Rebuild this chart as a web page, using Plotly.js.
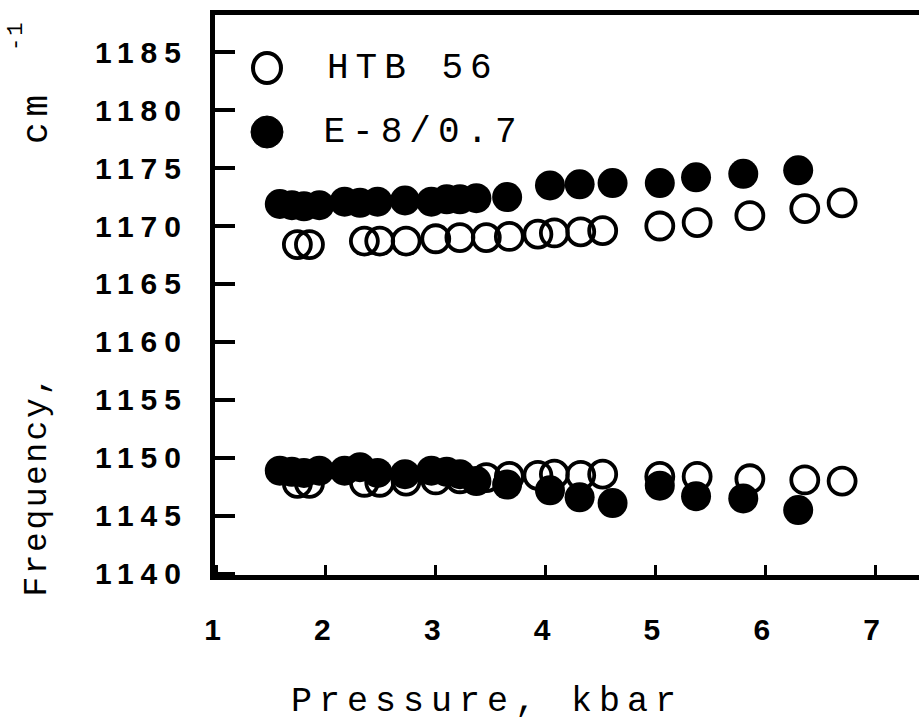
<!DOCTYPE html>
<html>
<head>
<meta charset="utf-8">
<script src="https://cdn.plot.ly/plotly-3.0.1.min.js"></script>
<style>
  html, body { margin: 0; padding: 0; background: #fff; }
  #chart { width: 919px; height: 726px; }
  .xtick text, .ytick text { letter-spacing: 7px; }
  .annotation[data-index="0"] text { letter-spacing: 7px; }
  .annotation[data-index="1"] text { letter-spacing: 2.5px; }
  .annotation[data-index="2"] text { letter-spacing: 6px; }
  .annotation[data-index="3"] text { letter-spacing: 2px; }
  .annotation[data-index="4"] text { letter-spacing: 7px; }
  .annotation[data-index="5"] text { letter-spacing: 7px; }
</style>
</head>
<body>
<div id="chart"></div>
<script>
// Pressure (kbar) and frequencies (cm^-1)
const htbPressure = [1.74, 1.85, 2.35, 2.49, 2.73, 3.0, 3.22, 3.46, 3.67, 3.93, 4.08, 4.32, 4.52, 5.04, 5.38, 5.86, 6.36, 6.70];
const htbUpper = [1168.4, 1168.4, 1168.7, 1168.7, 1168.7, 1168.9, 1169.0, 1169.0, 1169.1, 1169.3, 1169.4, 1169.5, 1169.6, 1170.0, 1170.3, 1170.9, 1171.5, 1172.0];
const htbLower = [1147.8, 1147.8, 1147.9, 1147.9, 1148.0, 1148.1, 1148.2, 1148.3, 1148.4, 1148.5, 1148.6, 1148.5, 1148.6, 1148.4, 1148.4, 1148.2, 1148.1, 1148.0];

const e8Pressure = [1.58, 1.69, 1.80, 1.94, 2.17, 2.31, 2.47, 2.72, 2.96, 3.10, 3.22, 3.37, 3.65, 4.04, 4.31, 4.61, 5.04, 5.37, 5.80, 6.30];
const e8Upper = [1171.9, 1171.8, 1171.7, 1171.8, 1172.1, 1172.0, 1172.1, 1172.2, 1172.1, 1172.3, 1172.3, 1172.4, 1172.5, 1173.5, 1173.6, 1173.7, 1173.7, 1174.2, 1174.5, 1174.8];
const e8Lower = [1148.9, 1148.8, 1148.7, 1148.9, 1148.9, 1149.2, 1148.7, 1148.6, 1148.9, 1148.8, 1148.6, 1148.0, 1147.7, 1147.2, 1146.6, 1146.1, 1147.6, 1146.7, 1146.5, 1145.5];

const xTicks = [1, 2, 3, 4, 5, 6, 7];
const yTicks = [1140, 1145, 1150, 1155, 1160, 1165, 1170, 1175, 1180, 1185];

const seriesNames = ['HTB 56', 'E-8/0.7'];

const traces = [
  {
    type: 'scatter', mode: 'markers', name: seriesNames[0], showlegend: false,
    x: htbPressure.concat([null], htbPressure),
    y: htbUpper.concat([null], htbLower),
    marker: { symbol: 'circle-open', size: 27, color: '#000', line: { width: 3.8, color: '#000' } }
  },
  {
    type: 'scatter', mode: 'markers', name: seriesNames[1], showlegend: false,
    x: e8Pressure.concat([null], e8Pressure),
    y: e8Upper.concat([null], e8Lower),
    marker: { symbol: 'circle', size: 30, color: '#000' }
  }
];

const W = 704, L = 215, T = 15, H = 560;
const px2x = p => (p - L) / W;
const py2y = p => 1 - (p - T) / H;
const monoFont = 'Liberation Mono, monospace';

const legendY = [68, 132];

const layout = {
  width: 919, height: 726,
  margin: { l: L, r: 0, t: T, b: 726 - T - H },
  paper_bgcolor: '#fff', plot_bgcolor: '#fff',
  showlegend: false,
  font: { family: 'Liberation Sans, Arial, sans-serif', color: '#000' },
  xaxis: {
    range: [0.99, 7.4],
    tickvals: xTicks, ticktext: xTicks.map(String),
    ticks: 'inside', ticklen: 10, tickwidth: 3, tickcolor: '#000',
    showline: true, linewidth: 5, linecolor: '#000', mirror: true,
    showgrid: false, zeroline: false,
    tickfont: { size: 30, family: 'Liberation Sans, Arial, sans-serif', color: '#000', weight: 'bold' },
    ticklabelstandoff: 24
  },
  yaxis: {
    range: [1139.9, 1188.2],
    tickvals: yTicks, ticktext: yTicks.map(String),
    ticks: 'inside', ticklen: 20, tickwidth: 3.5, tickcolor: '#000',
    showline: true, linewidth: 5, linecolor: '#000', mirror: false,
    showgrid: false, zeroline: false,
    tickfont: { size: 30, family: 'Liberation Sans, Arial, sans-serif', color: '#000', weight: 'bold' },
    ticklabelstandoff: 16
  },
  shapes: [
    {
      type: 'circle', xref: 'paper', yref: 'paper', xsizemode: 'pixel', ysizemode: 'pixel',
      xanchor: px2x(267), yanchor: py2y(legendY[0]), x0: -14, x1: 14, y0: -15, y1: 15,
      line: { color: '#000', width: 4 }, fillcolor: 'rgba(0,0,0,0)'
    },
    {
      type: 'circle', xref: 'paper', yref: 'paper', xsizemode: 'pixel', ysizemode: 'pixel',
      xanchor: px2x(267), yanchor: py2y(legendY[1]), x0: -16, x1: 16, y0: -16, y1: 16,
      line: { color: '#000', width: 1 }, fillcolor: '#000'
    }
  ],
  annotations: [
    {
      text: 'Pressure, kbar', xref: 'paper', yref: 'paper',
      x: px2x(487), y: py2y(702), xanchor: 'center', yanchor: 'middle',
      showarrow: false, font: { size: 35, family: monoFont, color: '#000' }
    },
    {
      text: 'Frequency,', xref: 'paper', yref: 'paper', textangle: -90,
      x: px2x(37), y: py2y(485), xanchor: 'center', yanchor: 'middle',
      showarrow: false, font: { size: 33, family: monoFont, color: '#000' }
    },
    {
      text: 'cm', xref: 'paper', yref: 'paper', textangle: -90,
      x: px2x(37), y: py2y(116), xanchor: 'center', yanchor: 'middle',
      showarrow: false, font: { size: 36, family: monoFont, color: '#000' }
    },
    {
      text: '-1', xref: 'paper', yref: 'paper', textangle: -90,
      x: px2x(17), y: py2y(36), xanchor: 'center', yanchor: 'middle',
      showarrow: false, font: { size: 22, family: monoFont, color: '#000' }
    },
    {
      text: seriesNames[0], xref: 'paper', yref: 'paper',
      x: px2x(346), y: py2y(legendY[0]), xanchor: 'left', yanchor: 'middle',
      showarrow: false, font: { size: 36, family: monoFont, color: '#000' }
    },
    {
      text: seriesNames[1], xref: 'paper', yref: 'paper',
      x: px2x(346), y: py2y(legendY[1]), xanchor: 'left', yanchor: 'middle',
      showarrow: false, font: { size: 36, family: monoFont, color: '#000' }
    }
  ]
};

Plotly.newPlot('chart', traces, layout, { displayModeBar: false, staticPlot: true });
</script>
</body>
</html>
